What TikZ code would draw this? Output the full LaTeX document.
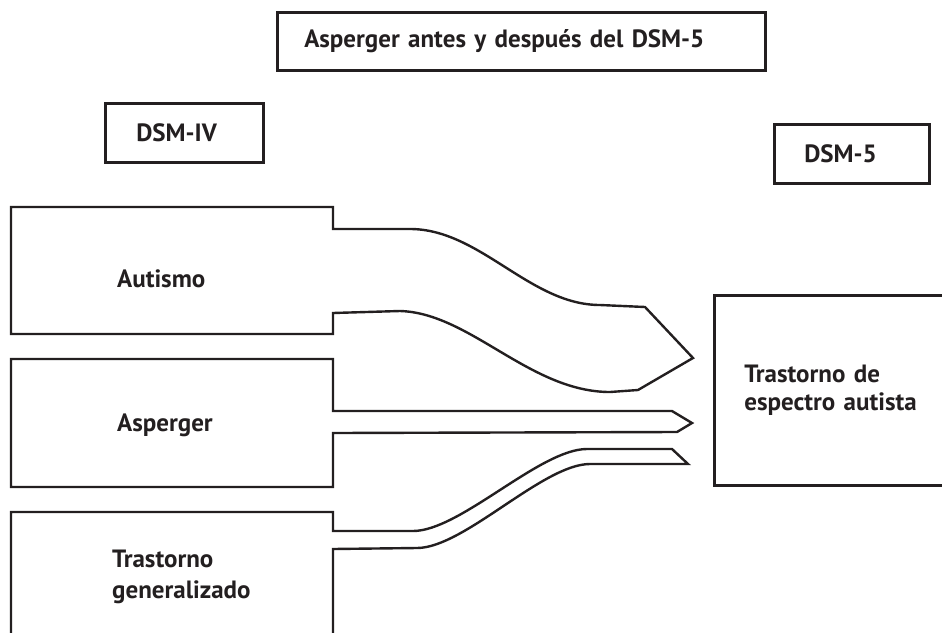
\documentclass[tikz,border=0pt]{standalone}
\usepackage{fontspec}
\setmainfont{PT Sans}
\usepackage{tikz}
\definecolor{ink}{HTML}{231F20}
\tikzset{
 lbl/.style={inner sep=0pt, align=left, text=ink,
   font=\bfseries\fontsize{25}{31}\selectfont},
 hdbox/.style={draw=ink, line width=2.6pt, anchor=north west, align=left,
   inner ysep=0pt, text=ink, font=\bfseries\fontsize{25}{28}\selectfont},
 band/.style={draw=ink, line width=2.4pt, line join=miter},
 }

\begin{document}
\begin{tikzpicture}[x=1pt, y=-1pt]
    \useasboundingbox (0,0) rectangle (942,632);
    \clip (0,0) rectangle (942,632);

    % headings
    \node[hdbox, minimum width=488pt, minimum height=58pt, inner xsep=27pt,
        text width=434pt] (titulo) at (276,11) {Asperger antes y después del DSM-5};
    \node[hdbox, minimum width=158pt, minimum height=59pt, inner xsep=31pt,
        text width=96pt] (dsmiv) at (104,102) {DSM-IV};
    \node[hdbox, minimum width=155pt, minimum height=59pt, inner xsep=30pt,
        text width=95pt] (dsmv) at (773,123) {DSM-5};
    \node[hdbox, minimum width=247pt, minimum height=190pt, inner xsep=30pt,
        text width=187pt] (tea) at (713,294) {Trastorno de\\espectro autista};

    % Autismo
    \draw[band] (333,229) -- (333,207) -- (11,207) -- (11,334) -- (333,334) -- (333,313)
        -- (400,311) .. controls (470,313) and (530,392) .. (610,392)
        -- (638,390) -- (693,358) -- (645,307) -- (600,305)
        .. controls (530,305) and (480,229) .. (410,229) -- cycle;
    % Asperger
    \draw[band] (333,411) -- (333,359) -- (11,359) -- (11,487) -- (333,487) -- (333,433)
        -- (677,432) -- (692,423) -- (672,411) -- cycle;
    % Trastorno generalizado
    \draw[band] (333,531) -- (333,512) -- (11,512) -- (11,660) -- (333,660) -- (333,549)
        -- (417,548) .. controls (464,548) and (543,464) .. (590,464)
        -- (688,464) -- (672,449) -- (587,449)
        .. controls (540,449) and (460,531) .. (413,531) -- cycle;

    \node[lbl, anchor=base west] (autismo) at (117,287) {Autismo};
    \node[lbl, anchor=base west] (asperger) at (117,431) {Asperger};
    \node[lbl, anchor=west] (tgd) at (112,577) {Trastorno\\generalizado};
\end{tikzpicture}
\end{document}
